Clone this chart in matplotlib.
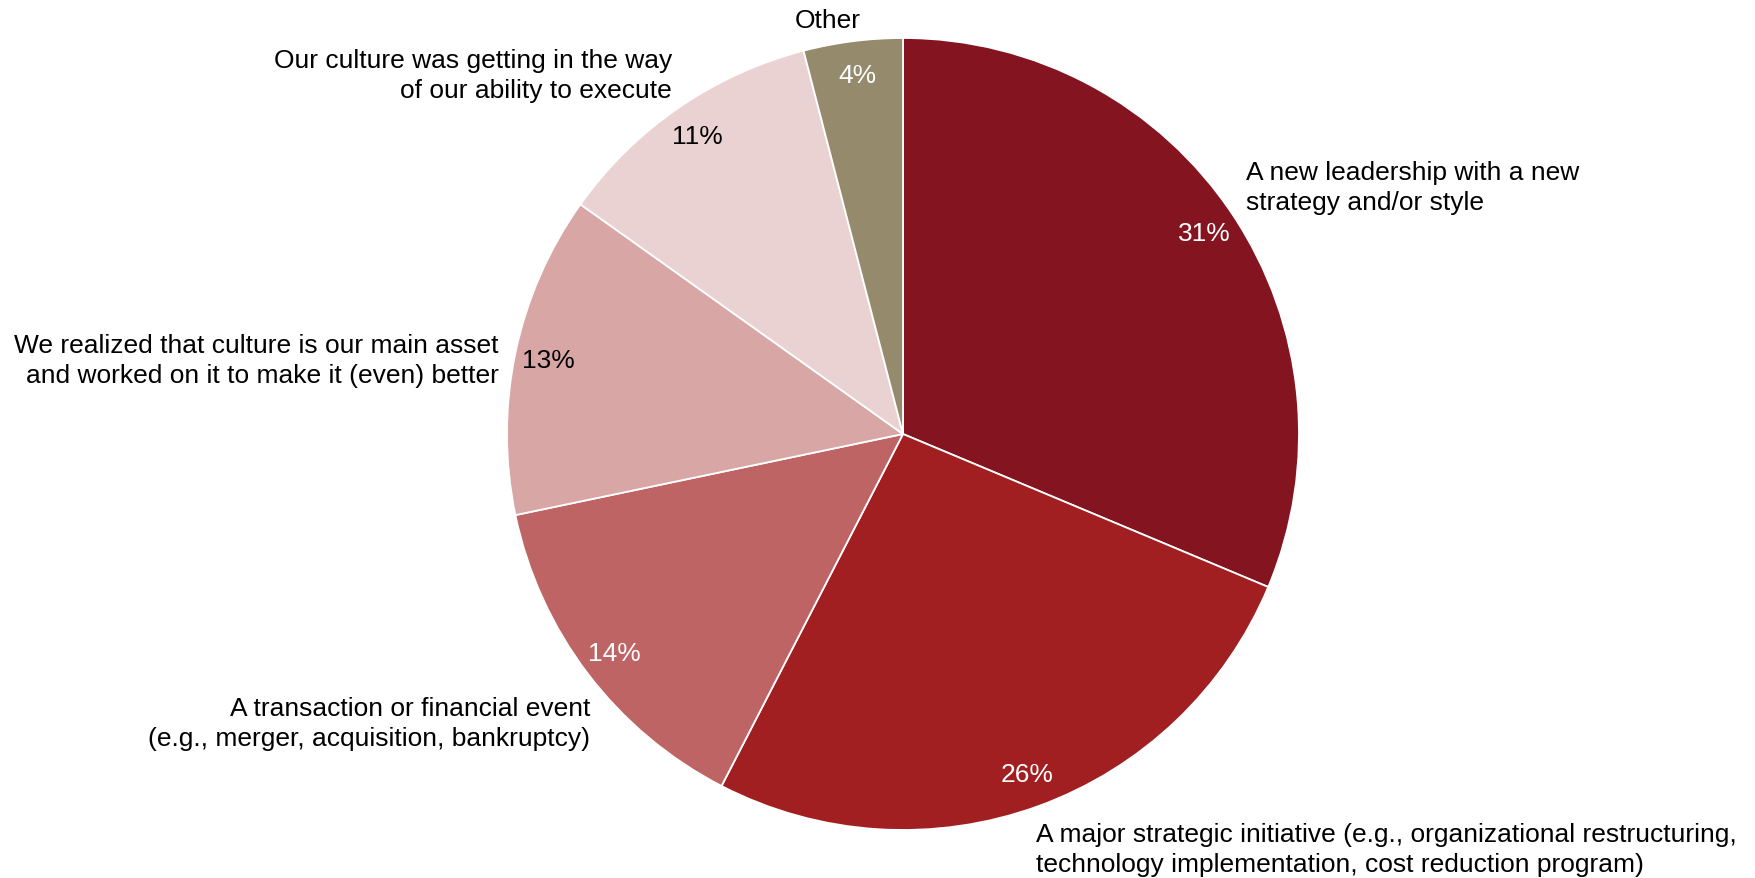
import numpy as np
import matplotlib.pyplot as plt

plt.rcParams['font.family'] = ['Liberation Sans', 'DejaVu Sans']

# Reasons for the culture change, clockwise from 12 o'clock
reasons = [
    "A new leadership with a new\nstrategy and/or style",
    "A major strategic initiative (e.g., organizational restructuring,\ntechnology implementation, cost reduction program)",
    "A transaction or financial event\n(e.g., merger, acquisition, bankruptcy)",
    "We realized that culture is our main asset\nand worked on it to make it (even) better",
    "Our culture was getting in the way\nof our ability to execute",
    "Other",
]
shares = [31, 26, 14, 13, 11, 4]
colors = ["#84141F", "#A21F21", "#BF6464", "#D9A6A6", "#EBD2D2", "#958A6C"]
pct_colors = ["white", "white", "white", "black", "black", "white"]

W, H = 1755, 879
fig = plt.figure(figsize=(W / 100, H / 100), dpi=100)
ax = fig.add_axes([0, 0, 1, 1])
ax.set_xlim(0, W)
ax.set_ylim(0, H)
ax.set_aspect('equal')
ax.axis('off')

cx, cy, R = 903, H - 435, 396
wedges, _ = ax.pie(shares, colors=colors, startangle=90, counterclock=False,
                   center=(cx, cy), radius=R,
                   wedgeprops=dict(edgecolor='white', linewidth=1.3))
ax.set_xlim(0, W)
ax.set_ylim(0, H)

# percentage labels just inside the outer rim of each slice
for w, v, tc in zip(wedges, shares, pct_colors):
    mid = np.deg2rad((w.theta1 + w.theta2) / 2)
    ax.text(cx + 0.915 * R * np.cos(mid), cy + 0.915 * R * np.sin(mid), f"{v}%",
            ha='center', va='center', fontsize=19, color=tc)

# category labels placed around the pie
label_pos = [
    (1246, H - 188, 'left'),
    (1036, H - 850, 'left'),
    (590, H - 724, 'right'),
    (499, H - 361, 'right'),
    (672, H - 76, 'right'),
    (828, H - 21, 'center'),
]
for txt, (x, y, ha) in zip(reasons, label_pos):
    ax.text(x, y, txt, ha=ha, va='center', fontsize=19, color='black',
            multialignment=ha if ha != 'center' else 'center', linespacing=1.32)

plt.savefig("out.png", dpi=100)
